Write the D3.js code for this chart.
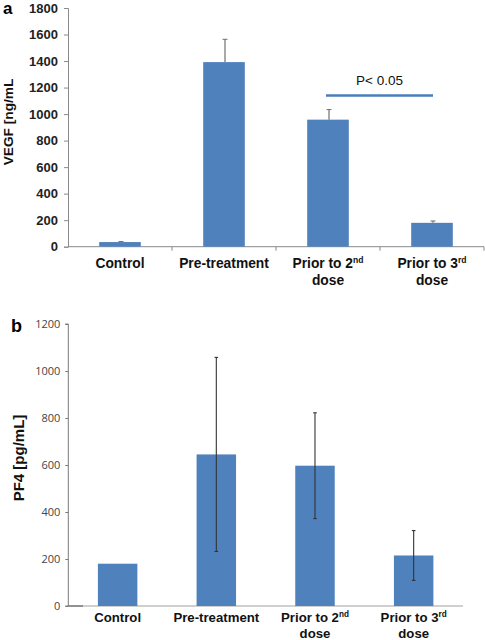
<!DOCTYPE html>
<html>
<head>
<meta charset="utf-8">
<script src="https://cdn.jsdelivr.net/npm/d3@7"></script>
<style>
  html, body { margin: 0; padding: 0; background: #fff; }
  svg { display: block; }
</style>
</head>
<body>
<svg id="chart" width="485" height="640"></svg>
<script>
// ---- data ----
const categories = ["Control", "Pre-treatment", "Prior to 2nd dose", "Prior to 3rd dose"];
const labelLine1 = ["Control", "Pre-treatment", "Prior to 2", "Prior to 3"];
const labelSup = ["", "", "nd", "rd"];
const labelLine2 = ["", "", "dose", "dose"];

const vegfValues = [35, 1392, 958, 180];
const vegfErrors = [4, 172, 76, 14];
const vegfTicks = [0, 200, 400, 600, 800, 1000, 1200, 1400, 1600, 1800];
const vegfSig = { from: "Prior to 2nd dose", to: "Prior to 3rd dose", value: 1140, label: "P< 0.05" };

const pf4Values = [180, 645, 597, 215];
const pf4Errors = [0, 413, 225, 106];
const pf4Ticks = [0, 200, 400, 600, 800, 1000, 1200];

const svg = d3.select("#chart");
const barColor = "#4f81bd";
const fmt = d3.format("d");

// ================= Panel a =================
const ax = d3.scaleBand().domain(categories).range([68, 484]);
const ay = d3.scaleLinear().domain([0, 1800]).range([246.7, 8]);
const aBarW = ax.bandwidth() * 0.4;

const ga = svg.append("g");
const aYAxis = ga.append("g").attr("transform", "translate(68,0)")
  .call(d3.axisLeft(ay).tickValues(vegfTicks).tickFormat(fmt).tickSize(4).tickPadding(6));
aYAxis.select(".domain").attr("stroke", "#8a8a8a");
aYAxis.selectAll(".tick line").attr("stroke", "#8a8a8a");
aYAxis.selectAll(".tick text")
  .attr("font-family", "Liberation Sans, Arial, sans-serif")
  .attr("font-weight", "bold").attr("font-size", 13).attr("fill", "#222");

ga.append("line").attr("x1", 68).attr("x2", 484).attr("y1", ay(0)).attr("y2", ay(0))
  .attr("stroke", "#8a8a8a");
categories.forEach((c, i) => {
  const xb = ax(c) + ax.bandwidth();
  ga.append("line").attr("x1", xb).attr("x2", xb).attr("y1", ay(0)).attr("y2", ay(0) + 4)
    .attr("stroke", "#8a8a8a");
});

ga.selectAll("rect.bar").data(categories).join("rect")
  .attr("class", "bar")
  .attr("x", d => ax(d) + ax.bandwidth() / 2 - aBarW / 2)
  .attr("width", aBarW)
  .attr("y", (d, i) => ay(vegfValues[i]))
  .attr("height", (d, i) => ay(0) - ay(vegfValues[i]))
  .attr("fill", barColor);

categories.forEach((c, i) => {
  const cx = ax(c) + ax.bandwidth() / 2 + 1;
  const yTop = ay(vegfValues[i] + vegfErrors[i]);
  ga.append("line").attr("x1", cx).attr("x2", cx)
    .attr("y1", ay(vegfValues[i])).attr("y2", yTop)
    .attr("stroke", "#6f6f6f").attr("stroke-width", 1.2);
  ga.append("line").attr("x1", cx - 2.5).attr("x2", cx + 2.5)
    .attr("y1", yTop).attr("y2", yTop)
    .attr("stroke", "#6f6f6f").attr("stroke-width", 1);
});

const sx1 = ax(vegfSig.from) + ax.bandwidth() / 2 - 2;
const sx2 = ax(vegfSig.to) + ax.bandwidth() / 2 + 1;
ga.append("line").attr("x1", sx1).attr("x2", sx2)
  .attr("y1", ay(vegfSig.value)).attr("y2", ay(vegfSig.value))
  .attr("stroke", "#4a7dbb").attr("stroke-width", 2.5);
ga.append("text").attr("x", (sx1 + sx2) / 2).attr("y", ay(vegfSig.value) - 11)
  .attr("text-anchor", "middle")
  .attr("font-family", "Liberation Sans, Arial, sans-serif").attr("font-size", 13.5)
  .attr("fill", "#111").text(vegfSig.label);

function catLabels(g, xs, y1, y2, size) {
  categories.forEach((c, i) => {
    const cx = xs(c) + xs.bandwidth() / 2;
    const t = g.append("text").attr("x", cx).attr("y", y1).attr("text-anchor", "middle")
      .attr("font-family", "Liberation Sans, Arial, sans-serif")
      .attr("font-weight", "bold").attr("font-size", size).attr("fill", "#111");
    t.append("tspan").text(labelLine1[i]);
    if (labelSup[i]) {
      t.append("tspan").attr("dy", -5).attr("font-size", size * 0.62).text(labelSup[i]);
    }
    if (labelLine2[i]) {
      g.append("text").attr("x", cx).attr("y", y2).attr("text-anchor", "middle")
        .attr("font-family", "Liberation Sans, Arial, sans-serif")
        .attr("font-weight", "bold").attr("font-size", size).attr("fill", "#111")
        .text(labelLine2[i]);
    }
  });
}
catLabels(ga, ax, 268, 285, 13.8);

ga.append("text").attr("transform", "translate(13,122) rotate(-90)")
  .attr("text-anchor", "middle")
  .attr("font-family", "Liberation Sans, Arial, sans-serif")
  .attr("font-weight", "bold").attr("font-size", 13.7).attr("fill", "#111")
  .text("VEGF [ng/mL");

ga.append("text").attr("x", 3).attr("y", 14)
  .attr("font-family", "Liberation Sans, Arial, sans-serif")
  .attr("font-weight", "bold").attr("font-size", 17).attr("fill", "#000").text("a");

// ================= Panel b =================
const bx = d3.scaleBand().domain(categories).range([68.3, 463]);
const by = d3.scaleLinear().domain([0, 1200]).range([606, 324]);
const bBarW = bx.bandwidth() * 0.4;

const gb = svg.append("g");
const bYAxis = gb.append("g").attr("transform", "translate(68.3,0)")
  .call(d3.axisLeft(by).tickValues(pf4Ticks).tickFormat(fmt).tickSize(3).tickPadding(5));
bYAxis.select(".domain").attr("stroke", "#7a7a7a").attr("d", "M-3,324H0V606H-3");
bYAxis.selectAll(".tick line").attr("stroke", "#7a7a7a");
bYAxis.selectAll(".tick text")
  .attr("font-family", "Open Sans, sans-serif")
  .attr("font-size", 11).attr("fill", "#444");

gb.append("line").attr("x1", 68.3).attr("x2", 463).attr("y1", by(0)).attr("y2", by(0))
  .attr("stroke", "#a0a0a0");
gb.append("line").attr("x1", 68.3).attr("x2", 83).attr("y1", by(0)).attr("y2", by(0))
  .attr("stroke", "#555");

gb.selectAll("rect.bar").data(categories).join("rect")
  .attr("class", "bar")
  .attr("x", d => bx(d) + bx.bandwidth() / 2 - bBarW / 2)
  .attr("width", bBarW)
  .attr("y", (d, i) => by(pf4Values[i]))
  .attr("height", (d, i) => by(0) - by(pf4Values[i]))
  .attr("fill", barColor);

categories.forEach((c, i) => {
  if (!pf4Errors[i]) return;
  const cx = bx(c) + bx.bandwidth() / 2;
  const yT = by(pf4Values[i] + pf4Errors[i]);
  const yB = by(pf4Values[i] - pf4Errors[i]);
  gb.append("line").attr("x1", cx).attr("x2", cx).attr("y1", yT).attr("y2", yB)
    .attr("stroke", "#333").attr("stroke-width", 1.1);
  [yT, yB].forEach(yy => {
    gb.append("line").attr("x1", cx - 1.8).attr("x2", cx + 1.8).attr("y1", yy).attr("y2", yy)
      .attr("stroke", "#333").attr("stroke-width", 1.1);
  });
});

catLabels(gb, bx, 622, 638, 13.2);

gb.append("text").attr("transform", "translate(24,458) rotate(-90)")
  .attr("text-anchor", "middle")
  .attr("font-family", "Liberation Sans, Arial, sans-serif")
  .attr("font-weight", "bold").attr("font-size", 15).attr("fill", "#111")
  .text("PF4 [pg/mL]");

gb.append("text").attr("x", 11).attr("y", 332)
  .attr("font-family", "Liberation Sans, Arial, sans-serif")
  .attr("font-weight", "bold").attr("font-size", 18).attr("fill", "#000").text("b");
</script>
</body>
</html>
